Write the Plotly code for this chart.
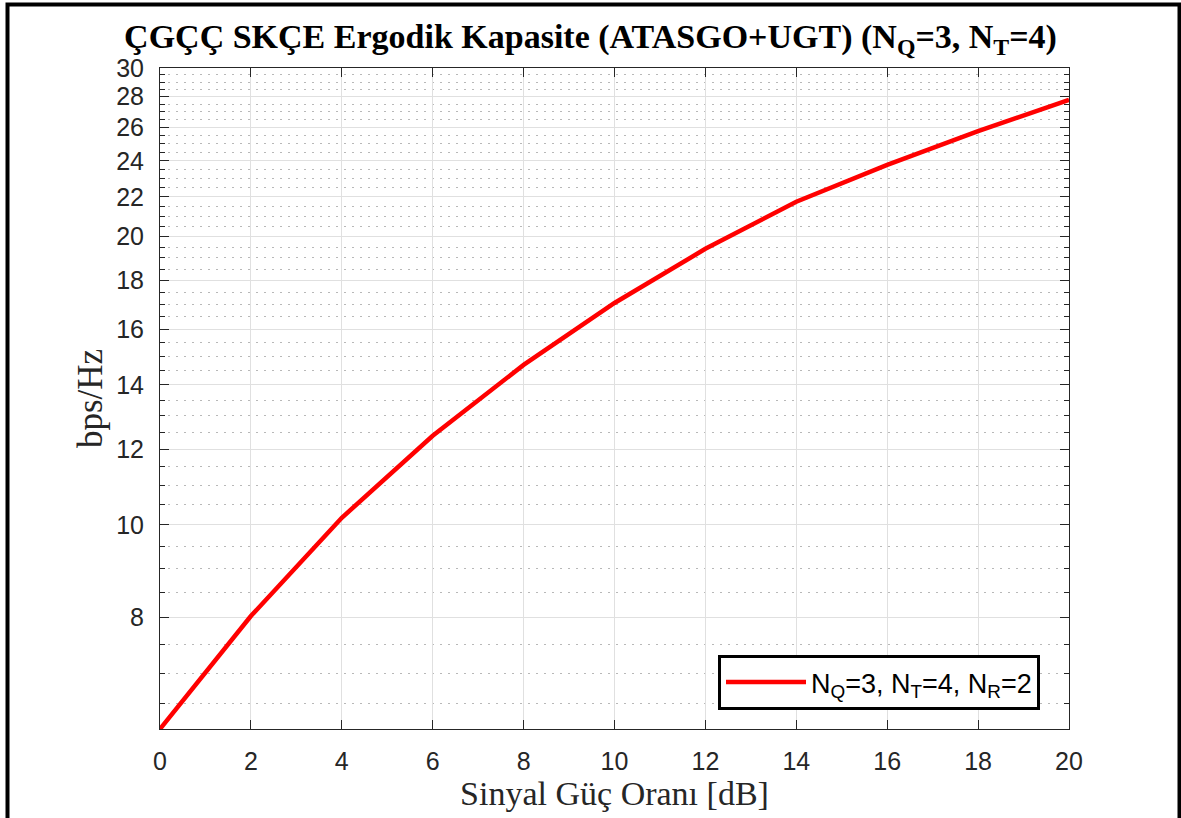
import numpy as np
import plotly.graph_objects as go

# SNR (dB) and ergodic capacity (bps/Hz)
snr_db = [0, 2, 4, 6, 8, 10, 12, 14, 16, 18, 20]
capacity = [6.12, 8.03, 10.17, 12.39, 14.69, 17.05, 19.42, 21.75, 23.76, 25.78, 27.79]

x_ticks = [0, 2, 4, 6, 8, 10, 12, 14, 16, 18, 20]
y_ticks = [8, 10, 12, 14, 16, 18, 20, 22, 24, 26, 28, 30]
y_minor = [6.5, 7, 7.5, 8.5, 9, 9.5, 10.5, 11, 11.5, 12.5, 13, 13.5, 14.5, 15, 15.5,
           16.5, 17, 17.5, 18.5, 19, 19.5, 20.5, 21, 21.5, 22.5, 23, 23.5, 24.5, 25,
           25.5, 26.5, 27, 27.5, 28.5, 29, 29.5]
y_range = [6.12, 30]

W, H = 1181, 818
M = dict(l=160, r=112, t=68, b=89)
AXIS = "#262626"
SERIF = "Liberation Serif, Times New Roman"
SANS = "Liberation Sans, Arial"


def px_to_paper(px, py):
    pw = W - M["l"] - M["r"]
    ph = H - M["t"] - M["b"]
    return (px - M["l"]) / pw, (H - M["b"] - py) / ph


fig = go.Figure()

fig.add_trace(
    go.Scatter(
        x=snr_db,
        y=capacity,
        mode="lines",
        name="N<sub>Q</sub>=3, N<sub>T</sub>=4, N<sub>R</sub>=2",
        line=dict(color="#ff0000", width=4.5),
    )
)

fig.update_layout(
    width=W,
    height=H,
    margin=M,
    paper_bgcolor="white",
    plot_bgcolor="white",
    font=dict(family=SANS, size=25, color=AXIS),
    title=dict(
        text="ÇGÇÇ SKÇE Ergodik Kapasite (ATASGO+UGT) (N<sub>Q</sub>=3, N<sub>T</sub>=4)",
        x=0.5,
        xanchor="center",
        y=1 - 36 / H,
        yanchor="middle",
        font=dict(family=SERIF, size=34, color="black", weight="bold"),
    ),
    showlegend=True,
    legend=dict(
        x=px_to_paper(718, 0)[0],
        y=px_to_paper(0, 710)[1],
        xanchor="left",
        yanchor="bottom",
        bgcolor="white",
        bordercolor="black",
        borderwidth=3,
        font=dict(family=SANS, size=27, color="black"),
        itemwidth=80,
    ),
)

fig.update_xaxes(
    range=[0, 20],
    tickvals=x_ticks,
    ticks="inside",
    ticklen=9,
    tickcolor=AXIS,
    showline=True,
    linecolor=AXIS,
    linewidth=1,
    mirror="ticks",
    showgrid=True,
    gridcolor="#e0e0e0",
    gridwidth=1,
    zeroline=False,
    ticklabelstandoff=10,
    title=dict(text="Sinyal Güç Oranı [dB]", standoff=2,
               font=dict(family=SERIF, size=34, color=AXIS)),
)

fig.update_yaxes(
    type="log",
    range=[np.log10(y_range[0]), np.log10(y_range[1])],
    tickvals=y_ticks,
    ticktext=[str(v) for v in y_ticks],
    ticks="inside",
    ticklen=9,
    tickcolor=AXIS,
    showline=True,
    linecolor=AXIS,
    linewidth=1,
    mirror="ticks",
    showgrid=True,
    gridcolor="#e0e0e0",
    gridwidth=1,
    zeroline=False,
    ticklabelstandoff=10,
    minor=dict(
        tickvals=y_minor,
        ticks="inside",
        ticklen=5,
        tickcolor=AXIS,
        showgrid=True,
        gridcolor="#b8b8b8",
        griddash="1.5px,6.5px",
        gridwidth=1,
    ),
    title=dict(text="bps/Hz", standoff=2,
               font=dict(family=SERIF, size=35, color=AXIS)),
)

# black frame around the figure (open at the bottom)
x0, y0 = px_to_paper(7.5, 4.5)
x1, _ = px_to_paper(1179.5, 0)
_, yb = px_to_paper(0, H + 5)
fig.add_shape(type="path", xref="paper", yref="paper",
              path=f"M {x0} {yb} L {x0} {y0} L {x1} {y0} L {x1} {yb}",
              line=dict(color="black", width=4))

fig.write_html("out.html", config={"displayModeBar": False},
               post_script="document.body.style.margin='0';")
